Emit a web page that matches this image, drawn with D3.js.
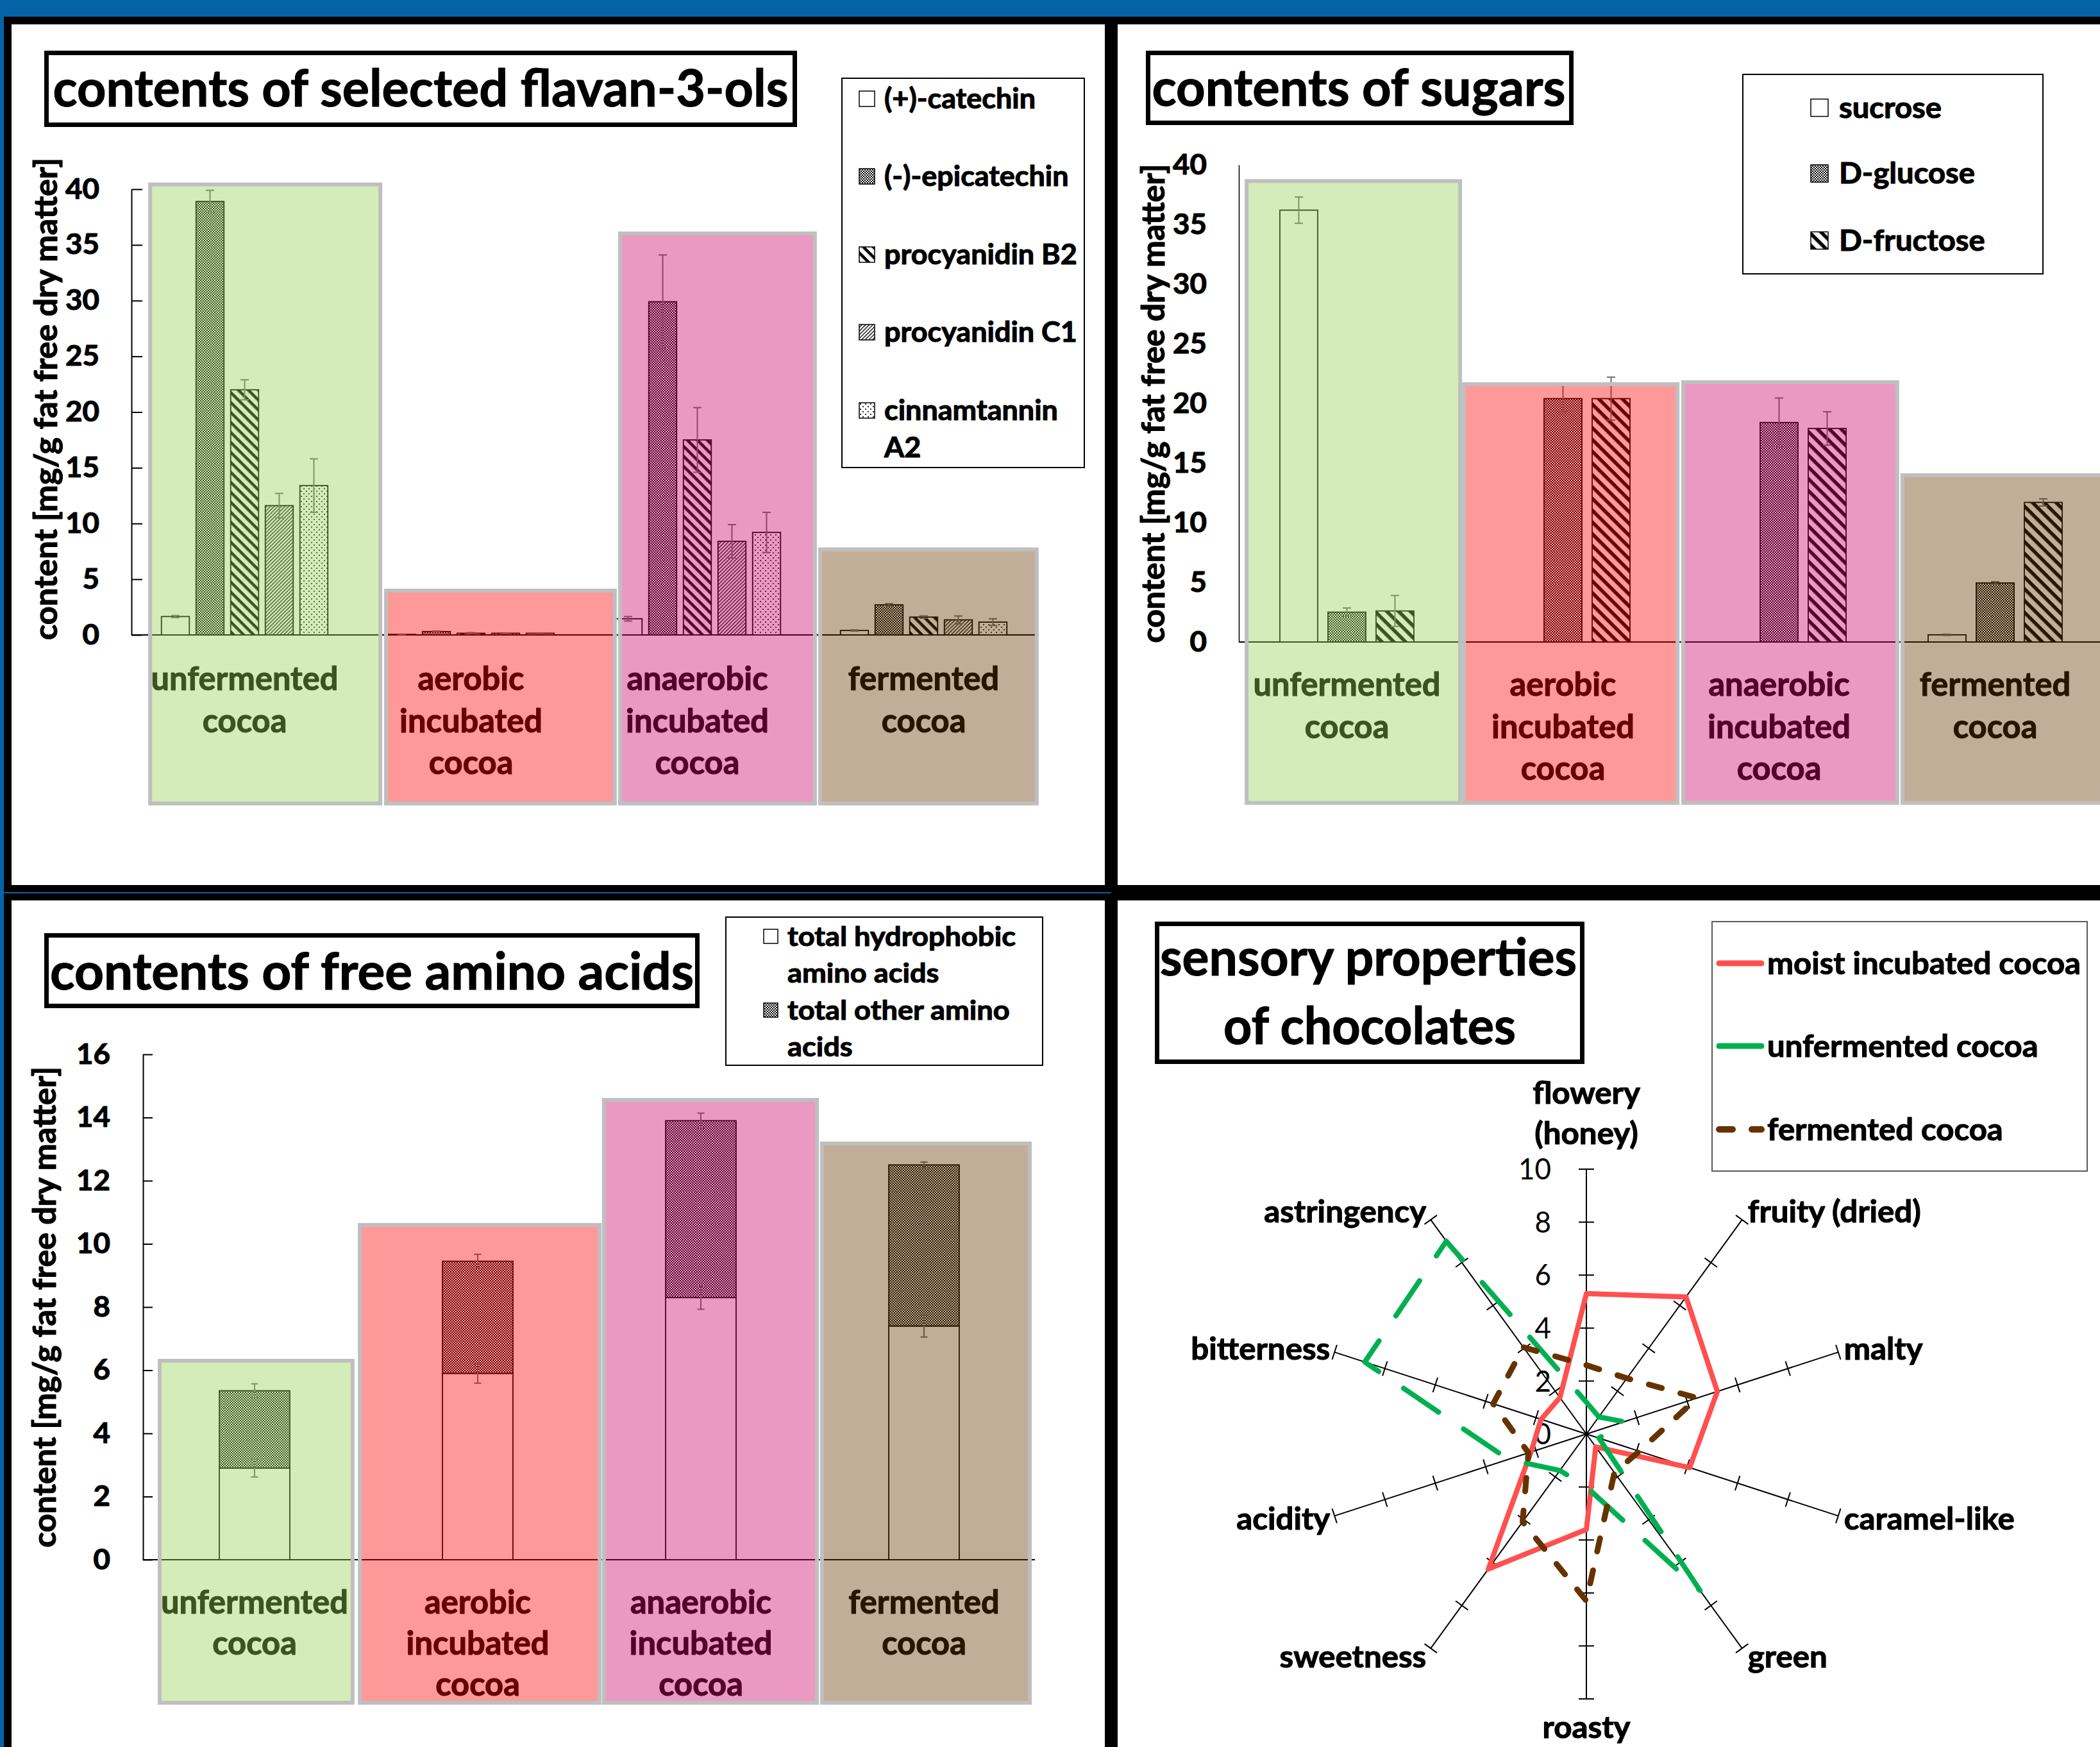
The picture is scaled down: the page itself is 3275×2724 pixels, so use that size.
<!DOCTYPE html>
<html>
<head>
<meta charset="utf-8">
<title>Cocoa incubation: flavan-3-ols, sugars, free amino acids and sensory profile</title>
<script src="https://cdn.jsdelivr.net/npm/d3@7"></script>
<style>
  html, body { margin: 0; padding: 0; background: #000; }
  svg { display: block; }
  svg text { font-family: Lato, "Open Sans", "DejaVu Sans", sans-serif; fill: #000; }
  svg text[font-weight="bold"] { stroke: #000; stroke-width: 1.1px; stroke-linejoin: round; }
</style>
</head>
<body>
<svg id="chart" width="3275" height="2724"></svg>
<script>
// ================= data =================
const cocoaTypes = ["unfermented cocoa", "aerobic incubated cocoa", "anaerobic incubated cocoa", "fermented cocoa"];
const cocoaLabelLines = [["unfermented", "cocoa"], ["aerobic", "incubated", "cocoa"], ["anaerobic", "incubated", "cocoa"], ["fermented", "cocoa"]];

// flavan-3-ols, mg/g fat free dry matter (rows follow cocoaTypes)
const flavanolSeries = ["(+)-catechin", "(-)-epicatechin", "procyanidin B2", "procyanidin C1", "cinnamtannin A2"];
const flavanolLegendLines = [["(+)-catechin"], ["(-)-epicatechin"], ["procyanidin B2"], ["procyanidin C1"], ["cinnamtannin", "A2"]];
const flavanolMeans = [
  [1.65, 38.9, 22.0, 11.6, 13.4],
  [0.05, 0.3, 0.15, 0.15, 0.15],
  [1.45, 29.9, 17.5, 8.4, 9.2],
  [0.4, 2.7, 1.6, 1.35, 1.15]
];
const flavanolErrors = [
  [0.1, 1.0, 0.9, 1.1, 2.4],
  [0.02, 0.05, 0.05, 0.03, 0.03],
  [0.2, 4.2, 2.9, 1.5, 1.8],
  [0.05, 0.1, 0.1, 0.35, 0.3]
];
const flavanolTicks = [0, 5, 10, 15, 20, 25, 30, 35, 40];

// sugars, mg/g fat free dry matter
const sugarSeries = ["sucrose", "D-glucose", "D-fructose"];
const sugarMeans = [
  [36.2, 2.5, 2.6],
  [0, 20.4, 20.4],
  [0, 18.4, 17.9],
  [0.6, 4.95, 11.7]
];
const sugarErrors = [
  [1.1, 0.35, 1.3],
  [0, 1.1, 1.8],
  [0, 2.05, 1.4],
  [0.05, 0.1, 0.3]
];
const sugarTicks = [0, 5, 10, 15, 20, 25, 30, 35, 40];

// free amino acids, mg/g fat free dry matter (stacked: hydrophobic + other)
const aminoSeries = ["total hydrophobic amino acids", "total other amino acids"];
const aminoLegendLines = [["total hydrophobic", "amino acids"], ["total other amino", "acids"]];
const hydrophobicAmino = [2.9, 5.9, 8.3, 7.4];
const otherAmino = [2.45, 3.55, 5.6, 5.1];
const hydrophobicAminoErr = [0.28, 0.31, 0.37, 0.35];
const totalAminoErr = [0.22, 0.22, 0.24, 0.09];
const aminoTicks = [0, 2, 4, 6, 8, 10, 12, 14, 16];

// sensory profile of the chocolates (0-10 scale)
const sensoryAttributes = ["flowery (honey)", "fruity (dried)", "malty", "caramel-like", "green", "roasty", "sweetness", "acidity", "bitterness", "astringency"];
const sensoryLabelLines = [["flowery", "(honey)"], ["fruity (dried)"], ["malty"], ["caramel-like"], ["green"], ["roasty"], ["sweetness"], ["acidity"], ["bitterness"], ["astringency"]];
const sensorySeries = ["moist incubated cocoa", "unfermented cocoa", "fermented cocoa"];
const moistIncubatedScores = [5.3, 6.4, 5.2, 4.1, 0.6, 3.6, 6.3, 2.2, 1.8, 1.7];
const unfermentedScores = [1.2, 0.8, 1.5, 0.5, 7.3, 2.0, 1.7, 3.1, 8.8, 9.0];
const fermentedScores = [2.6, 2.6, 4.4, 2.1, 1.8, 6.3, 4.1, 2.3, 3.7, 4.05];
const sensoryTicks = [0, 2, 4, 6, 8, 10];

// ================= styles =================
const W = 3275, H = 2724;
const BLUE = "#0563A8";
const ERR_COLOR = "#6e6e6e";
const OVERLAY_COLORS = ["#92D050", "#FF0000", "#CC0066", "#663300"];
const OVERLAY_OPACITY = 0.4;
const OVERLAY_EDGE = "#BFBFBF";
const LINE_COLORS = ["#FF5050", "#00B050", "#663300"];
const LINE_DASH = [null, "66,47", "21,30"];
const LINE_WIDTH = [8, 8, 9];

const svg = d3.select("#chart");
const defs = svg.append("defs");

// ---------- fill patterns (black on white, tinted later by the coloured panels) ----------
function hatch(id, period, thick, angle) {
  const p = defs.append("pattern").attr("id", id).attr("patternUnits", "userSpaceOnUse")
    .attr("width", period).attr("height", period).attr("patternTransform", `rotate(${angle})`);
  p.append("rect").attr("width", period).attr("height", period).attr("fill", "#fff");
  p.append("rect").attr("width", period).attr("height", thick).attr("fill", "#000");
}
function checker(id, s) {
  const p = defs.append("pattern").attr("id", id).attr("patternUnits", "userSpaceOnUse")
    .attr("width", 2 * s).attr("height", 2 * s);
  p.append("rect").attr("width", 2 * s).attr("height", 2 * s).attr("fill", "#fff");
  p.append("rect").attr("width", s).attr("height", s).attr("fill", "#000");
  p.append("rect").attr("x", s).attr("y", s).attr("width", s).attr("height", s).attr("fill", "#000");
}
function dots(id, s, r) {
  const p = defs.append("pattern").attr("id", id).attr("patternUnits", "userSpaceOnUse")
    .attr("width", s).attr("height", s);
  p.append("rect").attr("width", s).attr("height", s).attr("fill", "#fff");
  p.append("circle").attr("cx", s / 4).attr("cy", s / 4).attr("r", r).attr("fill", "#000");
  p.append("circle").attr("cx", 3 * s / 4).attr("cy", 3 * s / 4).attr("r", r).attr("fill", "#000");
}
checker("p-check", 2);
hatch("p-wide", 11, 4.5, 45);
hatch("p-wide-l", 13, 5.5, 45);
hatch("p-fine", 4, 1.3, -45);
dots("p-dots", 8, 1.1);

const flavanolFills = ["#fff", "url(#p-check)", "url(#p-wide)", "url(#p-fine)", "url(#p-dots)"];
const sugarFills = ["#fff", "url(#p-check)", "url(#p-wide-l)"];
const aminoFills = ["#fff", "url(#p-check)"];

// ---------- page frame ----------
svg.append("rect").attr("width", W).attr("height", H).attr("fill", "#000");
svg.append("rect").attr("width", W).attr("height", 26).attr("fill", BLUE);
svg.append("rect").attr("width", 6).attr("height", H).attr("fill", BLUE);
[[18, 38, 1705, 1342], [1743, 38, W - 1743, 1342], [18, 1404, 1705, H - 1404], [1743, 1404, W - 1743, H - 1404]]
  .forEach(([x, y, w, h]) => svg.append("rect").attr("x", x).attr("y", y).attr("width", w).attr("height", h).attr("fill", "#fff"));
svg.append("line").attr("x1", 0).attr("x2", 1733).attr("y1", 1392).attr("y2", 1392).attr("stroke", BLUE).attr("stroke-width", 2);

// ---------- text helpers ----------
function widthFactor(sample, size, weight, target) {
  const t = svg.append("text").attr("font-size", size).attr("font-weight", weight).text(sample);
  const w = t.node().getComputedTextLength();
  t.remove();
  return target / w;
}
function squeeze(sel, k) {
  sel.each(function () {
    const w = this.getComputedTextLength();
    d3.select(this).attr("textLength", w * k).attr("lengthAdjust", "spacingAndGlyphs");
  });
  return sel;
}
function fixedWidth(sel, w) {
  return sel.attr("textLength", w).attr("lengthAdjust", "spacingAndGlyphs");
}

const TICK_SIZE = 44, CAT_SIZE = 51, TITLE_SIZE = 81, YTITLE_SIZE = 50;
const kTick = widthFactor("40", TICK_SIZE, "bold", 53);
const kCat = widthFactor("unfermented", CAT_SIZE, "bold", 292);

function titleBox(box, lines) {
  const g = svg.append("g");
  g.append("rect").attr("x", box[0] + 3.5).attr("y", box[1] + 3.5).attr("width", box[2] - 7).attr("height", box[3] - 7)
    .attr("fill", "#fff").attr("stroke", "#000").attr("stroke-width", 7);
  lines.forEach(l => fixedWidth(g.append("text").attr("x", l.x).attr("y", l.y).attr("text-anchor", "middle")
    .attr("font-size", TITLE_SIZE).attr("font-weight", "bold").text(l.text), l.w));
}

function yTitle(x, yc, len) {
  fixedWidth(svg.append("text").attr("transform", `translate(${x},${yc}) rotate(-90)`).attr("text-anchor", "middle")
    .attr("font-size", YTITLE_SIZE).attr("font-weight", "bold").text("content [mg/g fat free dry matter]"), len);
}

function yAxis(g, y, ticks, axisX, tickLen, tickPad) {
  const axis = d3.axisLeft(y).tickValues(ticks).tickSizeInner(-tickLen).tickSizeOuter(0).tickPadding(tickPad);
  const ag = g.append("g").attr("transform", `translate(${axisX},0)`).call(axis)
    .attr("font-family", null).attr("font-size", null);
  ag.select(".domain").attr("stroke", "#000").attr("stroke-width", 2);
  ag.selectAll(".tick line").attr("stroke", "#000").attr("stroke-width", 2);
  const t = ag.selectAll(".tick text").attr("font-size", TICK_SIZE).attr("font-weight", "bold").attr("fill", "#000");
  squeeze(t, kTick);
}

function baseline(g, y, x0, x1) {
  g.append("line").attr("x1", x0).attr("x2", x1).attr("y1", y(0)).attr("y2", y(0)).attr("stroke", "#000").attr("stroke-width", 2);
}

function errorBar(g, cx, v, e, y, cap = 13) {
  if (!(e > 0)) return;
  const eg = g.append("g").attr("stroke", ERR_COLOR).attr("stroke-width", 2);
  eg.append("line").attr("x1", cx).attr("x2", cx).attr("y1", y(v - e)).attr("y2", y(v + e));
  [v - e, v + e].forEach(t => eg.append("line").attr("x1", cx - cap / 2).attr("x2", cx + cap / 2).attr("y1", y(t)).attr("y2", y(t)));
}

function groupedBars(g, x, xs, y, series, means, errors, fills) {
  const flat = means.flatMap((row, i) => row.map((v, j) => ({ cat: cocoaTypes[i], s: series[j], j, v, e: errors[i][j] })));
  g.selectAll(null).data(flat).join("rect")
    .attr("x", d => x(d.cat) + xs(d.s)).attr("width", xs.bandwidth())
    .attr("y", d => y(d.v)).attr("height", d => y(0) - y(d.v))
    .attr("fill", d => fills[d.j]).attr("stroke", "#000").attr("stroke-width", 1.8);
  flat.forEach(d => errorBar(g, x(d.cat) + xs(d.s) + xs.bandwidth() / 2, d.v, d.e, y));
}

function categoryLabels(g, x, base, gap) {
  cocoaLabelLines.forEach((lines, i) => lines.forEach((s, li) => {
    const t = g.append("text").attr("x", x(cocoaTypes[i]) + x.bandwidth() / 2).attr("y", base + li * gap)
      .attr("text-anchor", "middle").attr("font-size", CAT_SIZE).attr("font-weight", "bold").text(s);
    squeeze(t, kCat);
  }));
}

// translucent coloured panels over each cocoa type; extents in category units / axis units
function overlays(g, ix, y, box) {
  cocoaTypes.forEach((c, i) => {
    const xa = ix(box.x0[i]), xb = Math.min(ix(box.x1[i]), W + 20), ya = y(box.top[i]), yb = y(box.bottom);
    g.append("rect").attr("x", xa + 3).attr("y", ya + 3).attr("width", xb - xa - 6).attr("height", yb - ya - 6)
      .attr("fill", OVERLAY_COLORS[i]).attr("fill-opacity", OVERLAY_OPACITY)
      .attr("stroke", OVERLAY_EDGE).attr("stroke-width", 6);
  });
}

function barLegend(o) {
  const g = svg.append("g");
  g.append("rect").attr("x", o.box[0]).attr("y", o.box[1]).attr("width", o.box[2]).attr("height", o.box[3])
    .attr("fill", "#fff").attr("stroke", "#000").attr("stroke-width", 2);
  const k = widthFactor(o.ref, o.size, "bold", o.refWidth);
  o.lines.forEach((lines, i) => {
    const yc = o.ys[i];
    g.append("rect").attr("x", o.iconX).attr("y", yc - o.icon / 2).attr("width", o.icon).attr("height", o.icon)
      .attr("fill", o.fills[i]).attr("stroke", "#000").attr("stroke-width", 1.5);
    lines.forEach((s, li) => {
      const t = g.append("text").attr("x", o.textX).attr("y", yc + li * o.gap).attr("dy", "0.35em")
        .attr("font-size", o.size).attr("font-weight", "bold").text(s);
      squeeze(t, k);
    });
  });
}

// ================= panel 1: flavan-3-ols =================
{
  const g = svg.append("g");
  const y = d3.scaleLinear().domain([0, 40]).range([990, 295]);
  const x = d3.scaleBand().domain(cocoaTypes).range([205, 1617]);
  const xs = d3.scaleBand().domain(flavanolSeries).range([0, x.bandwidth()]).paddingInner(0.194).paddingOuter(0.866);
  const ix = d3.scaleLinear().domain([0, 4]).range([205, 1617]);
  yAxis(g, y, flavanolTicks, 205, 17, 50);
  baseline(g, y, 205, 1617);
  groupedBars(g, x, xs, y, flavanolSeries, flavanolMeans, flavanolErrors, flavanolFills);
  categoryLabels(g, x, 1076, 65.5);
  overlays(g, ix, y, { x0: [0.074, 1.116, 2.150, 3.034], x1: [1.108, 2.144, 3.028, 4.008], top: [40.6, 4.15, 36.2, 7.85], bottom: -15.3 });
  yTitle(89, 622, 752);
  titleBox([69, 79, 1174, 119], [{ text: "contents of selected flavan-3-ols", x: 656, y: 166, w: 1147 }]);
  barLegend({ box: [1313, 122, 378, 607], iconX: 1340, icon: 24, textX: 1379, ys: [154, 275, 397, 518, 640], gap: 58,
    lines: flavanolLegendLines, fills: flavanolFills, size: 43, ref: "(+)-catechin", refWidth: 236 });
}

// ================= panel 2: sugars =================
{
  const g = svg.append("g");
  const y = d3.scaleLinear().domain([0, 40]).range([1001, 257]);
  const x = d3.scaleBand().domain(cocoaTypes).range([1932, 3280]);
  const xs = d3.scaleBand().domain(sugarSeries).range([0, x.bandwidth()]).paddingInner(0.213).paddingOuter(0.853);
  const ix = d3.scaleLinear().domain([0, 4]).range([1932, 3280]);
  yAxis(g, y, sugarTicks, 1932, 0, 50);
  g.select(".domain").attr("stroke-width", 1.5);
  baseline(g, y, 1932, W);
  groupedBars(g, x, xs, y, sugarSeries, sugarMeans, sugarErrors, sugarFills);
  categoryLabels(g, x, 1085, 65.5);
  overlays(g, ix, y, { x0: [0.027, 1.033, 2.047, 3.062], x1: [1.033, 2.039, 3.056, 4.1], top: [38.8, 21.77, 21.94, 14.14], bottom: -13.65 });
  yTitle(1816, 629, 747);
  titleBox([1787, 79, 667, 116], [{ text: "contents of sugars", x: 2119, y: 165, w: 645 }]);
  barLegend({ box: [2718, 116, 468, 311], iconX: 2824, icon: 27, textX: 2868, ys: [168, 270.5, 375], gap: 0,
    lines: sugarSeries.map(s => [s]), fills: sugarFills, size: 45, ref: "D-glucose", refWidth: 212 });
}

// ================= panel 3: free amino acids =================
{
  const g = svg.append("g");
  const y = d3.scaleLinear().domain([0, 16]).range([2432, 1644]);
  const x = d3.scaleBand().domain(cocoaTypes).range([223, 1615]);
  const xs = d3.scaleBand().domain(["stack"]).range([0, x.bandwidth()]).padding(0.52);
  const ix = d3.scaleLinear().domain([0, 4]).range([223, 1615]);
  yAxis(g, y, aminoTicks, 223, 15, 51);
  baseline(g, y, 223, 1614);
  const stacked = d3.stack().keys([0, 1]).value((d, k) => d[k])(cocoaTypes.map((c, i) => [hydrophobicAmino[i], otherAmino[i]]));
  stacked.forEach((layer, li) => {
    g.selectAll(null).data(layer).join("rect")
      .attr("x", (d, i) => x(cocoaTypes[i]) + xs("stack")).attr("width", xs.bandwidth())
      .attr("y", d => y(d[1])).attr("height", d => y(d[0]) - y(d[1]))
      .attr("fill", aminoFills[li]).attr("stroke", "#000").attr("stroke-width", 1.8);
  });
  cocoaTypes.forEach((c, i) => {
    const cx = x(c) + xs("stack") + xs.bandwidth() / 2;
    errorBar(g, cx, hydrophobicAmino[i], hydrophobicAminoErr[i], y, 11);
    errorBar(g, cx, hydrophobicAmino[i] + otherAmino[i], totalAminoErr[i], y, 11);
  });
  categoryLabels(g, x, 2516, 64);
  overlays(g, ix, y, { x0: [0.066, 0.963, 2.057, 3.034], x1: [0.948, 2.055, 3.029, 3.983], top: [6.36, 10.66, 14.62, 13.24], bottom: -4.59 });
  yTitle(86.5, 2038, 750);
  titleBox([69, 1455, 1022, 117], [{ text: "contents of free amino acids", x: 580, y: 1543, w: 1004 }]);
  barLegend({ box: [1132, 1430, 494, 231], iconX: 1191, icon: 22, textX: 1228, ys: [1460, 1575], gap: 57.5,
    lines: aminoLegendLines, fills: aminoFills, size: 42, ref: "total hydrophobic", refWidth: 356 });
}

// ================= panel 4: sensory radar =================
{
  const cx = 2474, cy = 2236, R = 413;
  const r = d3.scaleLinear().domain([0, 10]).range([0, R]);
  const angle = d3.scaleLinear().domain([0, sensoryAttributes.length]).range([0, 2 * Math.PI]);
  const g = svg.append("g").attr("transform", `translate(${cx},${cy})`);

  // spokes with crossing tick marks
  sensoryAttributes.forEach((a, i) => {
    const th = angle(i), sx = Math.sin(th), sy = -Math.cos(th);
    g.append("line").attr("x1", 0).attr("y1", 0).attr("x2", r(10) * sx).attr("y2", r(10) * sy)
      .attr("stroke", "#000").attr("stroke-width", 2);
    sensoryTicks.filter(v => v > 0).forEach(v => {
      const px = r(v) * sx, py = r(v) * sy, h = 12;
      g.append("line").attr("x1", px - h * Math.cos(th)).attr("y1", py - h * Math.sin(th))
        .attr("x2", px + h * Math.cos(th)).attr("y2", py + h * Math.sin(th))
        .attr("stroke", "#000").attr("stroke-width", 2);
    });
  });

  // value labels on the vertical spoke
  const kNum = widthFactor("10", 46, "normal", 51);
  sensoryTicks.forEach(v => {
    const t = g.append("text").attr("x", -55).attr("y", -r(v)).attr("dy", "0.35em").attr("text-anchor", "end")
      .attr("font-size", 46).text(v);
    squeeze(t, kNum);
  });

  // attribute labels
  const kLab = widthFactor("caramel-like", 48, "bold", 266);
  sensoryLabelLines.forEach((lines, i) => {
    const th = angle(i), ex = r(10) * Math.sin(th), ey = -r(10) * Math.cos(th);
    let pos;
    if (i === 0) pos = lines.map((s, li) => ({ s, x: ex, y: ey - 119 + li * 63, anchor: "middle" }));
    else if (i === 5) pos = [{ s: lines[0], x: ex, y: ey + 44, anchor: "middle" }];
    else if (i < 5) pos = [{ s: lines[0], x: ex + 9, y: ey - 16 * Math.cos(th), anchor: "start" }];
    else pos = [{ s: lines[0], x: ex - 7, y: ey - 16 * Math.cos(th), anchor: "end" }];
    pos.forEach(p => {
      const t = g.append("text").attr("x", p.x).attr("y", p.y).attr("dy", "0.35em").attr("text-anchor", p.anchor)
        .attr("font-size", 48).attr("font-weight", "bold").text(p.s);
      squeeze(t, kLab);
    });
  });

  // profiles
  const radial = d3.lineRadial().angle((d, i) => angle(i)).radius(d => r(d)).curve(d3.curveLinearClosed);
  [moistIncubatedScores, unfermentedScores, fermentedScores].forEach((scores, si) => {
    g.append("path").attr("d", radial(scores)).attr("fill", "none")
      .attr("stroke", LINE_COLORS[si]).attr("stroke-width", LINE_WIDTH[si])
      .attr("stroke-dasharray", LINE_DASH[si]).attr("stroke-linecap", si === 0 ? "butt" : "round")
      .attr("stroke-linejoin", "round");
  });

  // legend
  const lg = svg.append("g");
  lg.append("rect").attr("x", 2670).attr("y", 1437).attr("width", 585).attr("height", 389)
    .attr("fill", "none").attr("stroke", "#5a5a5a").attr("stroke-width", 2);
  const kLeg = widthFactor("moist incubated cocoa", 48, "bold", 489);
  [1502, 1631, 1761].forEach((yc, si) => {
    lg.append("line").attr("x1", 2681).attr("x2", 2747).attr("y1", yc).attr("y2", yc)
      .attr("stroke", LINE_COLORS[si]).attr("stroke-width", LINE_WIDTH[si] + 1)
      .attr("stroke-dasharray", LINE_DASH[si]).attr("stroke-linecap", "round");
    const t = lg.append("text").attr("x", 2756).attr("y", yc).attr("dy", "0.35em")
      .attr("font-size", 48).attr("font-weight", "bold").text(sensorySeries[si]);
    squeeze(t, kLeg);
  });

  titleBox([1801, 1437, 670, 222], [
    { text: "sensory properties", x: 2134, y: 1521, w: 650 },
    { text: "of chocolates", x: 2136, y: 1628, w: 456 }
  ]);
}
</script>
</body>
</html>
